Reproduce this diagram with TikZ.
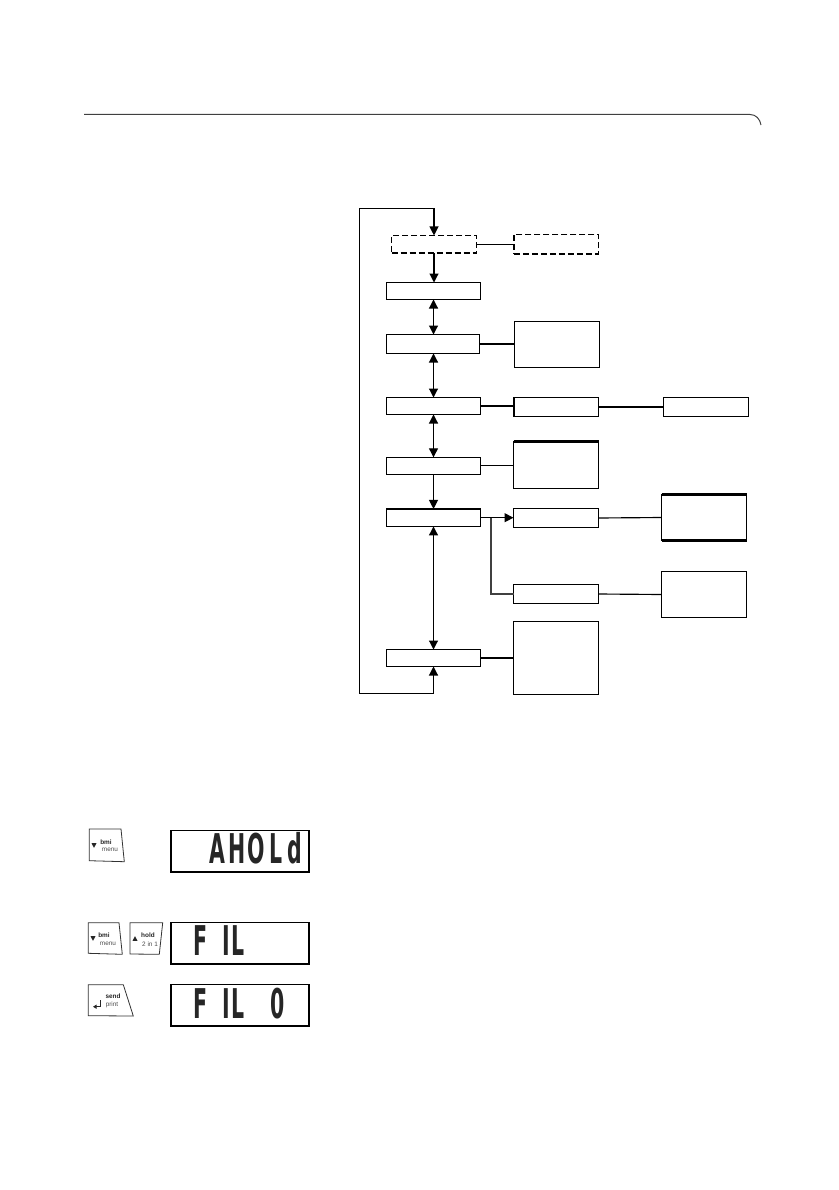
\documentclass[tikz,border=0pt]{standalone}
\usepackage{fontspec}
\setmainfont{Liberation Sans}
\newfontfamily\lcdfont{DejaVu Sans}
\usetikzlibrary{arrows.meta}
\newcommand{\lc}[2][39pt]{\makebox[#1][c]{#2}}
\tikzset{
  x=1pt,y=-1pt,
  bx/.style={draw=black,line width=1.15pt,inner sep=0pt,outer sep=0pt,fill=white},
  dbx/.style={bx,dash pattern=on 6pt off 3pt,line width=1.4pt},
  conn/.style={draw=black,line width=1.15pt},
  tip/.style={-{Triangle[length=9pt,width=9pt]}},
  both/.style={{Triangle[length=9pt,width=9pt]}-{Triangle[length=9pt,width=9pt]}},
  heavy/.style={line width=2.2pt,draw=black,line cap=butt},
  lcd/.style={draw=black,line width=1.5pt,minimum width=138pt,minimum height=41.5pt,inner sep=0pt},
  lcdtxt/.style={font=\lcdfont\bfseries\fontsize{41}{41}\selectfont,inner sep=0pt,xscale=.5,anchor=base west,text=black!85},
  keyline/.style={draw=black!80,line width=.8pt},
  keyb/.style={font=\bfseries\fontsize{6.4}{7}\selectfont,inner sep=0pt,text=black!85},
  keyr/.style={font=\fontsize{6.4}{7}\selectfont,inner sep=0pt,text=black!70},
}
\begin{document}
\begin{tikzpicture}
\useasboundingbox (0,0) rectangle (838,1190);
% header rule
\coordinate (hl) at (84,114.5);
\coordinate (hm) at (750,114.5);
\coordinate (hr) at (761,125);
\draw[draw=black!75,line width=1pt] (hl) -- (hm) .. controls (756,114.5) and (760,119) .. (hr);
% flow boxes
\node[dbx,minimum width=85pt,minimum height=17.5pt] (a) at (434,244.2) {};
\node[dbx,minimum width=84.5pt,minimum height=19.5pt] (a2) at (556.2,244.2) {};
\node[bx,minimum width=94pt,minimum height=17pt] (b1) at (433.5,291) {};
\node[bx,minimum width=93pt,minimum height=19pt] (b2) at (433,344) {};
\node[bx,minimum width=85pt,minimum height=46pt] (c2) at (557,344.5) {};
\node[bx,minimum width=94pt,minimum height=17pt] (b3) at (433.5,406) {};
\node[bx,minimum width=84.5pt,minimum height=19pt] (c3) at (556.2,407) {};
\node[bx,minimum width=85pt,minimum height=19pt] (d3) at (706,407) {};
\node[bx,minimum width=94pt,minimum height=17pt] (b4) at (433.5,465.8) {};
\node[bx,minimum width=85pt,minimum height=47pt] (c4) at (556,465) {};
\node[bx,minimum width=94pt,minimum height=17.5pt] (b5) at (433.5,517.7) {};
\node[bx,minimum width=85pt,minimum height=19pt] (c5) at (556,518) {};
\node[bx,minimum width=85pt,minimum height=46pt] (d5) at (704,517.5) {};
\node[bx,minimum width=85pt,minimum height=19pt] (c6) at (556,594) {};
\node[bx,minimum width=85pt,minimum height=46pt] (d6) at (704,594.5) {};
\node[bx,minimum width=94pt,minimum height=17pt] (b7) at (433.5,658) {};
\node[bx,minimum width=85pt,minimum height=73pt] (c7) at (556,658) {};
% thicker edges seen in the reference
\draw[heavy] (c4.north west) -- (c4.north east);
\draw[heavy] (b5.north west) -- (b5.north east);
\draw[heavy] (d5.north west) -- (d5.north east);
\draw[heavy] (d5.south west) -- (d5.south east);
\draw[heavy] (c3.north west) -- (c3.south west);
% loop
\coordinate (lt) at (359.5,208.5);
\coordinate (lb) at (359.5,693.5);
\draw[conn,both] (a.north) |- (lt) -- (lb) -| (b7.south);
% vertical connectors
\draw[conn,tip] (a.south) -- (a.south |- b1.north);
\draw[conn,both] (b1.south) -- (b1.south |- b2.north);
\draw[conn,both] (b1.south |- b2.south) -- (b3.north);
\draw[conn,both] (b3.south) -- (b4.north);
\draw[conn,tip] (b4.south) -- (b5.north);
\draw[conn,both] (b5.south) -- (b7.north);
% horizontal connectors
\draw[conn] (a.east) -- (a2.west);
\draw[conn] (b2.east) -- (b2.east -| c2.west);
\draw[conn] (b3.east) -- (b3.east -| c3.west);
\draw[conn] (c3.east) -- (c3.east -| d3.west);
\draw[conn] (b4.east) -- (b4.east -| c4.west);
\draw[conn,tip] (b5.east) -- (b5.east -| c5.west);
\draw[conn] (c5.east) -- (d5.west);
\draw[conn] (c6.east) -- (d6.west);
\draw[conn] (b7.east) -- (c7.west);
\coordinate (j) at (491,517.7);
\draw[draw=black!75,line width=1.4pt] (j) |- (c6.west);
% LCD panels
\node[lcd] (p1) at (240,851.3) {};
\node[lcd] (p2) at (240,943.3) {};
\node[lcd] (p3) at (240,1005.3) {};
\node[lcdtxt] (t1) at (207.5,863) {\lc{A}\lc{H}\lc{O}\lc{L}\lc{d}};
\node[lcdtxt] (t2) at (190.5,955) {\lc{F}\hspace{20pt}\lc[24pt]{I}\hspace{0pt}\lc[24pt]{L}};
\node[lcdtxt] (t3) at (190.5,1018) {\lc{F}\hspace{20pt}\lc[24pt]{I}\lc[24pt]{L}\hspace{48pt}\lc[38pt]{0}};
% keys
\coordinate (k1a) at (89.3,829); \coordinate (k1b) at (121,829); \coordinate (k1c) at (124.3,861.7); \coordinate (k1d) at (89.3,860.7);
\draw[keyline] (k1a) -- (k1b) -- (k1c) -- (k1d) -- cycle;
\fill[black!85] (91.5,843.2) -- (96.5,843.2) -- (94,847.8) -- cycle;
\node[keyb] (k1t) at (106,842) {bmi};
\node[keyr] (k1u) at (110,850) {menu};
\coordinate (k2a) at (88.3,922.7); \coordinate (k2b) at (119,922.7); \coordinate (k2c) at (122.3,954.3); \coordinate (k2d) at (88.3,953.3);
\draw[keyline] (k2a) -- (k2b) -- (k2c) -- (k2d) -- cycle;
\fill[black!85] (90.5,936.2) -- (95.5,936.2) -- (93,940.8) -- cycle;
\node[keyb] (k2t) at (104,935) {bmi};
\node[keyr] (k2u) at (108,944) {menu};
\coordinate (k3a) at (130,922.7); \coordinate (k3b) at (162.7,922.7); \coordinate (k3c) at (159.3,954.3); \coordinate (k3d) at (130,954);
\draw[keyline] (k3a) -- (k3b) -- (k3c) -- (k3d) -- cycle;
\fill[black!85] (132.5,940.8) -- (137.5,940.8) -- (135,936.2) -- cycle;
\node[keyb] (k3t) at (148,935) {hold};
\node[keyr] (k3u) at (150,944) {2 in 1};
\coordinate (k4a) at (88.3,984.7); \coordinate (k4b) at (123.3,984.7); \coordinate (k4c) at (133.3,1016); \coordinate (k4d) at (88.3,1015.7);
\draw[keyline] (k4a) -- (k4b) -- (k4c) -- (k4d) -- cycle;
\coordinate (r1) at (100,1000); \coordinate (r2) at (93,1006.7);
\draw[draw=black!85,line width=.9pt,-{Triangle[length=3.5pt,width=4pt]}] (r1) |- (r2);
\node[keyb] (k4t) at (113,996.7) {send};
\node[keyr] (k4u) at (112,1005) {print};
\end{tikzpicture}
\end{document}
